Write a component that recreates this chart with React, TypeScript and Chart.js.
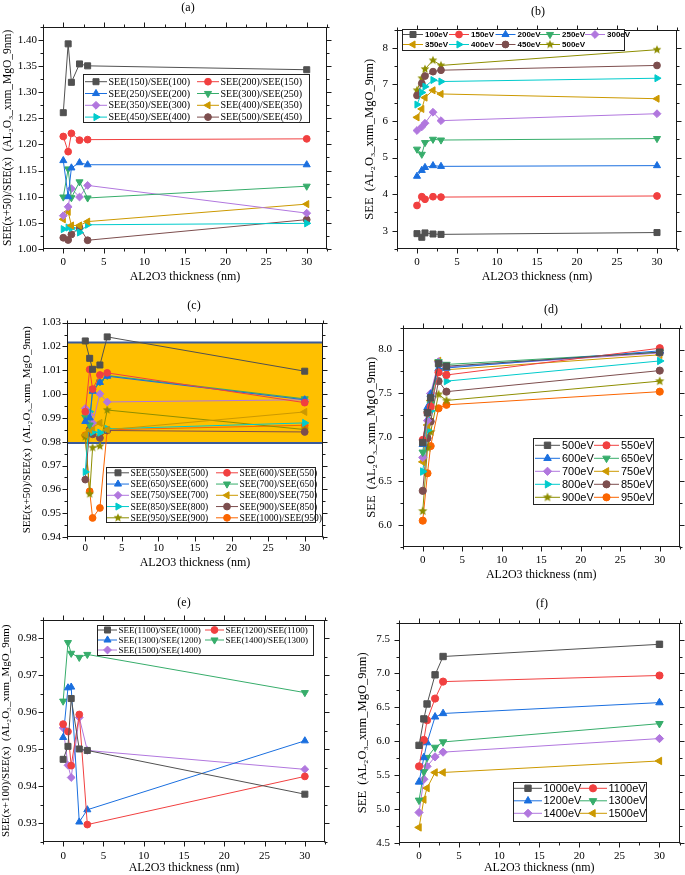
import React, { useEffect, useRef } from 'react';
import { Chart, registerables } from 'chart.js';
import { drawPoint } from 'chart.js/helpers';

Chart.register(...registerables);

// ---------------- data ----------------
const thickness = [0, 0.6, 1, 2, 3, 30];
const xTicks = [0, 5, 10, 15, 20, 25, 30];

// (a) SEE(x+50)/SEE(x), 100-500 eV
const aLabels = ['SEE(150)/SEE(100)', 'SEE(200)/SEE(150)', 'SEE(250)/SEE(200)', 'SEE(300)/SEE(250)', 'SEE(350)/SEE(300)', 'SEE(400)/SEE(350)', 'SEE(450)/SEE(400)', 'SEE(500)/SEE(450)'];
const a150_100 = [1.2605, 1.392, 1.3185, 1.3537, 1.350, 1.3426];
const a200_150 = [1.215, 1.186, 1.221, 1.208, 1.209, 1.2105];
const a250_200 = [1.169, 1.100, 1.155, 1.165, 1.161, 1.161];
const a300_250 = [1.0993, 1.153, 1.098, 1.1283, 1.0975, 1.120];
const a350_300 = [1.0636, 1.0807, 1.1154, 1.0993, 1.1215, 1.0685];
const a400_350 = [1.0567, 1.071, 1.045, 1.045, 1.0524, 1.0858];
const a450_400 = [1.038, 1.041, 1.040, 1.0315, 1.0463, 1.049];
const a500_450 = [1.0215, 1.0172, 1.0278, 1.0407, 1.0167, 1.0561];
const aYTicks = [1.0, 1.05, 1.1, 1.15, 1.2, 1.25, 1.3, 1.35, 1.4];

// (b) SEE 100-500 eV
const bLabels = ['100eV', '150eV', '200eV', '250eV', '300eV', '350eV', '400eV', '450eV', '500eV'];
const b100 = [2.92, 2.82, 2.94, 2.91, 2.90, 2.95];
const b150 = [3.69, 3.93, 3.86, 3.93, 3.92, 3.95];
const b200 = [4.49, 4.65, 4.73, 4.78, 4.76, 4.78];
const b250 = [5.23, 5.09, 5.41, 5.50, 5.48, 5.52];
const b300 = [5.74, 5.84, 5.94, 6.24, 6.01, 6.20];
const b350 = [6.10, 6.33, 6.64, 6.84, 6.74, 6.61];
const b400 = [6.45, 6.78, 6.94, 7.12, 7.08, 7.17];
const b450 = [6.70, 7.03, 7.23, 7.35, 7.39, 7.52];
const b500 = [6.84, 7.17, 7.42, 7.66, 7.52, 7.95];
const bYTicks = [3, 4, 5, 6, 7, 8];

// (c) SEE(x+50)/SEE(x), 500-1000 eV
const cLabels = ['SEE(550)/SEE(500)', 'SEE(600)/SEE(550)', 'SEE(650)/SEE(600)', 'SEE(700)/SEE(650)', 'SEE(750)/SEE(700)', 'SEE(800)/SEE(750)', 'SEE(850)/SEE(800)', 'SEE(900)/SEE(850)', 'SEE(950)/SEE(900)', 'SEE(1000)/SEE(950)'];
const c550 = [1.0223, 1.0150, 1.0104, 1.0122, 1.0240, 1.0096];
const c600 = [0.9926, 1.0103, 1.0021, 1.0080, 1.0089, 0.9964];
const c650 = [0.9885, 0.9900, 1.0012, 1.0049, 1.0075, 0.9976];
const c700 = [0.9903, 0.9870, 1.0021, 1.0051, 1.0078, 0.9980];
const c750 = [0.9940, 0.9913, 0.9879, 1.0001, 0.9967, 0.9976];
const c800 = [0.9830, 0.9850, 0.9860, 0.9879, 0.9850, 0.9925];
const c850 = [0.9673, 0.9926, 0.9840, 0.9838, 0.9854, 0.9879];
const c900 = [0.9641, 0.9851, 0.9831, 0.9816, 0.9847, 0.9841];
const c950 = [0.9820, 0.9580, 0.9775, 0.9781, 0.9933, 0.9851];
const c1000 = [0.9827, 0.9592, 0.9480, 0.9522, 0.9850, 0.9869];
const cYTicks = [0.94, 0.95, 0.96, 0.97, 0.98, 0.99, 1.0, 1.01, 1.02, 1.03];
const cBand = [0.9795, 1.0216];

// (d) SEE 500-950 eV
const dLabels = ['500eV', '550eV', '600eV', '650eV', '700eV', '750eV', '800eV', '850eV', '900eV', '950eV'];
const d500 = [6.94, 7.28, 7.45, 7.84, 7.81, 7.97];
const d550 = [6.97, 7.28, 7.35, 7.74, 7.71, 8.015];
const d600 = [6.92, 7.34, 7.49, 7.78, 7.79, 7.985];
const d650 = [6.83, 7.27, 7.38, 7.86, 7.83, 7.97];
const d700 = [6.77, 7.19, 7.50, 7.86, 7.80, 7.96];
const d750 = [6.72, 7.14, 7.42, 7.87, 7.77, 7.94];
const d800 = [6.61, 7.08, 7.30, 7.77, 7.64, 7.87];
const d850 = [6.39, 6.99, 7.18, 7.64, 7.52, 7.76];
const d900 = [6.16, 6.88, 7.06, 7.49, 7.42, 7.64];
const d950 = [6.05, 6.59, 6.90, 7.33, 7.37, 7.52];
const dYTicks = [6.0, 6.5, 7.0, 7.5, 8.0];

// (e) SEE(x+100)/SEE(x), 1000-1500 eV
const eLabels = ['SEE(1100)/SEE(1000)', 'SEE(1200)/SEE(1100)', 'SEE(1300)/SEE(1200)', 'SEE(1400)/SEE(1300)', 'SEE(1500)/SEE(1400)'];
const e1100 = [0.9473, 0.9508, 0.9637, 0.9501, 0.9497, 0.9379];
const e1200 = [0.9568, 0.9548, 0.9456, 0.9594, 0.9297, 0.9427];
const e1300 = [0.9532, 0.9666, 0.9668, 0.9304, 0.9337, 0.9523];
const e1400 = [0.9630, 0.9788, 0.9759, 0.9748, 0.9756, 0.9653];
const e1500 = [0.9558, 0.9457, 0.9424, 0.9586, 0.9497, 0.9446];
const eYTicks = [0.93, 0.94, 0.95, 0.96, 0.97, 0.98];

// (f) SEE 1000-1500 eV
const fLabels = ['1000eV', '1100eV', '1200eV', '1300eV', '1400eV', '1500eV'];
const f1000 = [5.94, 6.33, 6.55, 6.98, 7.25, 7.43];
const f1100 = [5.63, 6.02, 6.31, 6.63, 6.88, 6.97];
const f1200 = [5.40, 5.76, 5.98, 6.36, 6.41, 6.57];
const f1300 = [5.13, 5.55, 5.76, 5.91, 5.99, 6.26];
const f1400 = [4.95, 5.44, 5.63, 5.77, 5.84, 6.04];
const f1500 = [4.73, 5.14, 5.31, 5.54, 5.54, 5.71];
const fYTicks = [4.5, 5.0, 5.5, 6.0, 6.5, 7.0, 7.5];

// ---------------- styles ----------------
const PALETTE = ['#515151', '#F14040', '#1A6FDF', '#37AD6B', '#B177DE', '#CC9900', '#00CBCC', '#7D4E4E', '#8E8E00', '#FB6501'];
const MARKERS = ['square', 'circle', 'up', 'down', 'diamond', 'left', 'right', 'circle', 'star', 'circle'];
const SERIF = '"Liberation Serif", serif';
const SANS = '"Liberation Sans", Arial, sans-serif';
const Y_SEE = 'SEE  (AL\u2082O\u2083_xnm_MgO_9nm)';

function makeStar(color: string, r: number): HTMLCanvasElement {
  const size = Math.ceil(r * 2 + 2);
  const c = document.createElement('canvas');
  c.width = size; c.height = size;
  const ctx = c.getContext('2d')!;
  const cx = size / 2, cy = size / 2;
  ctx.beginPath();
  for (let i = 0; i < 10; i++) {
    const ang = -Math.PI / 2 + (i * Math.PI) / 5;
    const rr = i % 2 === 0 ? r : r * 0.45;
    ctx.lineTo(cx + rr * Math.cos(ang), cy + rr * Math.sin(ang));
  }
  ctx.closePath();
  ctx.fillStyle = color;
  ctx.fill();
  return c;
}

function markerProps(m: string, color: string, r: number): any {
  switch (m) {
    case 'square': return { pointStyle: 'rect', rotation: 0, radius: r * 1.25 };
    case 'circle': return { pointStyle: 'circle', rotation: 0, radius: r };
    case 'up': return { pointStyle: 'triangle', rotation: 0, radius: r * 1.2 };
    case 'down': return { pointStyle: 'triangle', rotation: 180, radius: r * 1.2 };
    case 'diamond': return { pointStyle: 'rectRot', rotation: 0, radius: r * 1.15 };
    case 'left': return { pointStyle: 'triangle', rotation: -90, radius: r * 1.2 };
    case 'right': return { pointStyle: 'triangle', rotation: 90, radius: r * 1.2 };
    case 'star': return { pointStyle: makeStar(color, r * 1.35), rotation: 0, radius: r };
    default: return { pointStyle: 'circle', rotation: 0, radius: r };
  }
}

type LegendSpec = {
  box: [number, number, number, number];
  cols: number;
  rowY0: number;
  rowH: number;
  colX: number[];
  lineLen: number;
  gap: number;
  font: string;
};

type PanelSpec = {
  title: string;
  titlePos: [number, number];
  canvas: [number, number, number, number];
  area: [number, number, number, number];
  yMin: number;
  yMax: number;
  yTicks: number[];
  yDecimals: number;
  yLabel: string;
  yTitleSize: number;
  yTitleCenter: number;
  yTickPad: number;
  xTickPad: number;
  xTitleCenter: number;
  labels: string[];
  series: number[][];
  markerR: number;
  legend: LegendSpec;
  band?: number[];
};

const panels: PanelSpec[] = [
  {
    title: '(a)', titlePos: [188, 7],
    canvas: [0, 14, 342, 292], area: [43, 20, 327, 249],
    yMin: 1.0, yMax: 1.425, yTicks: aYTicks, yDecimals: 2,
    yLabel: 'SEE(x+50)/SEE(x)  (AL\u2082O\u2083_xnm_MgO_9nm)', yTitleSize: 11.5,
    yTitleCenter: 8, yTickPad: 6, xTickPad: 7, xTitleCenter: 277,
    labels: aLabels, series: [a150_100, a200_150, a250_200, a300_250, a350_300, a400_350, a450_400, a500_450],
    markerR: 3.4,
    legend: { box: [83, 74, 309, 122], cols: 2, rowY0: 81.7, rowH: 11.8, colX: [85, 197], lineLen: 22, gap: 1.5, font: `10px ${SERIF}` },
  },
  {
    title: '(b)', titlePos: [538, 11],
    canvas: [342, 14, 685, 292], area: [397, 23, 677, 249],
    yMin: 2.5, yMax: 8.5, yTicks: bYTicks, yDecimals: 0,
    yLabel: Y_SEE, yTitleSize: 12.5,
    yTitleCenter: 370, yTickPad: 9, xTickPad: 7, xTitleCenter: 277,
    labels: bLabels, series: [b100, b150, b200, b250, b300, b350, b400, b450, b500],
    markerR: 3.4,
    legend: { box: [402, 29, 624, 50], cols: 5, rowY0: 34.5, rowH: 10, colX: [403, 449, 495.5, 540, 585], lineLen: 20, gap: 2, font: `bold 8px ${SANS}` },
  },
  {
    title: '(c)', titlePos: [194, 305],
    canvas: [0, 310, 342, 588], area: [67, 317, 323, 537],
    yMin: 0.94, yMax: 1.03, yTicks: cYTicks, yDecimals: 2,
    yLabel: 'SEE(x+50)/SEE(x)  (AL\u2082O\u2083_xnm_MgO_9nm)', yTitleSize: 11,
    yTitleCenter: 27, yTickPad: 6, xTickPad: 5, xTitleCenter: 563,
    labels: cLabels, series: [c550, c600, c650, c700, c750, c800, c850, c900, c950, c1000],
    markerR: 3.4,
    legend: { box: [106, 467, 315, 522], cols: 2, rowY0: 472.8, rowH: 11.25, colX: [107, 216], lineLen: 22, gap: 1.5, font: `9.5px ${SERIF}` },
    band: cBand,
  },
  {
    title: '(d)', titlePos: [551, 309],
    canvas: [342, 310, 685, 588], area: [403, 322, 681, 547],
    yMin: 5.75, yMax: 8.25, yTicks: dYTicks, yDecimals: 1,
    yLabel: Y_SEE, yTitleSize: 12.5,
    yTitleCenter: 372, yTickPad: 11, xTickPad: 7, xTitleCenter: 575,
    labels: dLabels, series: [d500, d550, d600, d650, d700, d750, d800, d850, d900, d950],
    markerR: 3.6,
    legend: { box: [533, 438, 653, 504], cols: 2, rowY0: 445.3, rowH: 13, colX: [535, 594], lineLen: 25, gap: 2, font: `11px ${SANS}` },
  },
  {
    title: '(e)', titlePos: [184, 602],
    canvas: [0, 607, 342, 875], area: [43, 613, 325, 842],
    yMin: 0.925, yMax: 0.985, yTicks: eYTicks, yDecimals: 2,
    yLabel: 'SEE(x+100)/SEE(x)  (AL\u2082O\u2083_xnm_MgO_9nm)', yTitleSize: 11,
    yTitleCenter: 6, yTickPad: 6, xTickPad: 8, xTitleCenter: 869,
    labels: eLabels, series: [e1100, e1200, e1300, e1400, e1500],
    markerR: 3.4,
    legend: { box: [97, 625, 313, 655], cols: 2, rowY0: 630, rowH: 10, colX: [98, 205], lineLen: 19, gap: 1.5, font: `9px ${SERIF}` },
  },
  {
    title: '(f)', titlePos: [542, 603],
    canvas: [342, 607, 685, 875], area: [399, 615, 681, 843],
    yMin: 4.5, yMax: 7.75, yTicks: fYTicks, yDecimals: 1,
    yLabel: Y_SEE, yTitleSize: 12.5,
    yTitleCenter: 363, yTickPad: 9, xTickPad: 7, xTitleCenter: 869,
    labels: fLabels, series: [f1000, f1100, f1200, f1300, f1400, f1500],
    markerR: 3.6,
    legend: { box: [513, 782, 646, 821], cols: 2, rowY0: 788.3, rowH: 12.5, colX: [514, 579], lineLen: 28, gap: 1.5, font: `11px ${SANS}` },
  },
];

// ---------------- plugins ----------------
function minorValues(majors: number[], min: number, max: number): number[] {
  const step = majors[1] - majors[0];
  const out: number[] = [];
  const eps = step * 1e-6;
  for (let v = majors[0] - step / 2; v >= min - eps; v -= step) out.push(v);
  for (let i = 0; i < majors.length; i++) {
    const v = majors[i] + step / 2;
    if (v <= max + eps) out.push(v);
  }
  return out;
}

const bandPlugin = {
  id: 'band',
  beforeDatasetsDraw(chart: any, _args: any, opts: any) {
    if (!opts || !opts.range) return;
    const { ctx, chartArea: ca, scales } = chart;
    const y = scales.y;
    const top = y.getPixelForValue(opts.range[1]);
    const bot = y.getPixelForValue(opts.range[0]);
    ctx.save();
    ctx.fillStyle = '#FFC000';
    ctx.fillRect(ca.left, top, ca.right - ca.left, bot - top);
    ctx.strokeStyle = '#3A5A9A';
    ctx.lineWidth = 2;
    ctx.beginPath();
    ctx.moveTo(ca.left, top); ctx.lineTo(ca.right, top);
    ctx.moveTo(ca.left, bot); ctx.lineTo(ca.right, bot);
    ctx.stroke();
    ctx.restore();
  },
};

const framePlugin = {
  id: 'frame',
  afterDraw(chart: any, _args: any, opts: any) {
    const { ctx, chartArea: ca, scales } = chart;
    const xs = scales.x, ys = scales.y;
    ctx.save();
    ctx.strokeStyle = '#1a1a1a';
    ctx.lineWidth = 1;
    const L = Math.round(ca.left) + 0.5, R = Math.round(ca.right) - 0.5;
    const T = Math.round(ca.top) + 0.5, B = Math.round(ca.bottom) - 0.5;
    ctx.strokeRect(L, T, R - L, B - T);
    ctx.beginPath();
    const xt = (v: number, len: number) => {
      const p = Math.round(xs.getPixelForValue(v)) + 0.5;
      ctx.moveTo(p, B); ctx.lineTo(p, B + len);
      ctx.moveTo(p, T); ctx.lineTo(p, T - len);
    };
    const yt = (v: number, len: number) => {
      const p = Math.round(ys.getPixelForValue(v)) + 0.5;
      ctx.moveTo(L, p); ctx.lineTo(L - len, p);
      ctx.moveTo(R, p); ctx.lineTo(R + len, p);
    };
    opts.xMajor.forEach((v: number) => xt(v, 5));
    minorValues(opts.xMajor, xs.min, xs.max).forEach((v: number) => xt(v, 3));
    opts.yMajor.forEach((v: number) => yt(v, 5));
    minorValues(opts.yMajor, ys.min, ys.max).forEach((v: number) => yt(v, 3));
    ctx.stroke();
    ctx.restore();
  },
};

const legendPlugin = {
  id: 'boxLegend',
  afterDraw(chart: any, _args: any, opts: any) {
    if (!opts || !opts.spec) return;
    const spec: LegendSpec = opts.spec;
    const [ox, oy] = opts.offset;
    const { ctx } = chart;
    ctx.save();
    const [x0, y0, x1, y1] = spec.box;
    ctx.fillStyle = '#ffffff';
    ctx.fillRect(x0 - ox, y0 - oy, x1 - x0, y1 - y0);
    ctx.strokeStyle = '#222';
    ctx.lineWidth = 1;
    ctx.strokeRect(Math.round(x0 - ox) + 0.5, Math.round(y0 - oy) + 0.5, Math.round(x1 - x0), Math.round(y1 - y0));
    ctx.font = spec.font;
    ctx.textBaseline = 'middle';
    ctx.textAlign = 'left';
    chart.data.datasets.forEach((ds: any, i: number) => {
      const col = i % spec.cols;
      const row = Math.floor(i / spec.cols);
      const lx = spec.colX[col] - ox;
      const ly = spec.rowY0 + row * spec.rowH - oy;
      ctx.strokeStyle = ds.borderColor;
      ctx.lineWidth = 1;
      ctx.beginPath();
      ctx.moveTo(lx, ly); ctx.lineTo(lx + spec.lineLen, ly);
      ctx.stroke();
      ctx.fillStyle = ds.borderColor;
      ctx.strokeStyle = ds.borderColor;
      drawPoint(ctx, { pointStyle: ds.pointStyle, rotation: ds.pointRotation, radius: ds.pointRadius, borderWidth: 1 } as any, lx + spec.lineLen / 2, ly);
      ctx.fillStyle = '#000';
      ctx.fillText(ds.label, lx + spec.lineLen + spec.gap, ly + 0.5);
    });
    ctx.restore();
  },
};

// ---------------- components ----------------
function Panel({ spec }: { spec: PanelSpec }) {
  const ref = useRef<HTMLCanvasElement>(null);
  const [cl, ct, cr, cb] = spec.canvas;
  const w = cr - cl, h = cb - ct;

  useEffect(() => {
    const [L, T, R, B] = spec.area;
    const xTitleSize = 12;
    const yTitlePad = Math.max(0, spec.yTitleCenter - cl - spec.yTitleSize * 0.6);
    const xTitlePad = Math.max(0, cb - spec.xTitleCenter - xTitleSize * 0.6);
    const datasets = spec.series.map((vals, i) => {
      const color = PALETTE[i];
      const mk = markerProps(MARKERS[i], color, spec.markerR);
      return {
        label: spec.labels[i],
        data: thickness.map((x, j) => ({ x, y: vals[j] })),
        borderColor: color,
        backgroundColor: color,
        borderWidth: 1,
        pointStyle: mk.pointStyle,
        pointRotation: mk.rotation,
        pointRadius: mk.radius,
        pointBackgroundColor: color,
        pointBorderColor: color,
        pointBorderWidth: 1,
        tension: 0,
        fill: false,
      };
    });
    const chart = new Chart(ref.current as HTMLCanvasElement, {
      type: 'line',
      data: { datasets },
      plugins: [bandPlugin, framePlugin, legendPlugin],
      options: {
        animation: false,
        responsive: false,
        maintainAspectRatio: false,
        events: [],
        layout: { padding: { left: 0, top: T - ct, right: cr - R, bottom: 0 } },
        plugins: {
          legend: { display: false },
          tooltip: { enabled: false },
          title: { display: false },
          band: { range: spec.band },
          frame: { xMajor: xTicks, yMajor: spec.yTicks },
          boxLegend: { spec: spec.legend, offset: [cl, ct] },
        } as any,
        scales: {
          x: {
            type: 'linear',
            min: -2.5,
            max: 32.5,
            afterBuildTicks: (s: any) => { s.ticks = xTicks.map((v) => ({ value: v })); },
            afterFit: (s: any) => { s.height = cb - B; },
            grid: { display: false, drawTicks: false, tickLength: 0 },
            border: { display: false },
            ticks: {
              color: '#000',
              font: { family: SERIF, size: 11 },
              padding: spec.xTickPad,
              maxRotation: 0,
              autoSkip: false,
              callback: (v: any) => String(v),
            },
            title: {
              display: true,
              text: 'AL2O3 thickness (nm)',
              color: '#000',
              font: { family: SERIF, size: xTitleSize },
              padding: { top: 0, bottom: xTitlePad },
            },
          },
          y: {
            type: 'linear',
            min: spec.yMin,
            max: spec.yMax,
            afterBuildTicks: (s: any) => { s.ticks = spec.yTicks.map((v) => ({ value: v })); },
            afterFit: (s: any) => { s.width = L - cl; },
            grid: { display: false, drawTicks: false, tickLength: 0 },
            border: { display: false },
            ticks: {
              color: '#000',
              font: { family: SERIF, size: 11 },
              padding: spec.yTickPad,
              autoSkip: false,
              callback: (v: any) => Number(v).toFixed(spec.yDecimals),
            },
            title: {
              display: true,
              text: spec.yLabel,
              color: '#000',
              font: { family: SERIF, size: spec.yTitleSize },
              padding: { top: yTitlePad, bottom: 0 },
            },
          },
        },
      } as any,
    });
    return () => chart.destroy();
  }, []);

  return (
    <>
      <canvas
        ref={ref}
        width={w}
        height={h}
        style={{ position: 'absolute', left: cl, top: ct, width: w, height: h }}
      />
      <div
        style={{
          position: 'absolute',
          left: spec.titlePos[0],
          top: spec.titlePos[1],
          transform: 'translate(-50%, -50%)',
          font: `12px ${SERIF}`,
          color: '#000',
          whiteSpace: 'nowrap',
        }}
      >
        {spec.title}
      </div>
    </>
  );
}

export default function App() {
  return (
    <div
      style={{
        position: 'absolute',
        left: 0,
        top: 0,
        width: 685,
        height: 875,
        background: '#ffffff',
        overflow: 'hidden',
      }}
    >
      {panels.map((p) => (
        <Panel key={p.title} spec={p} />
      ))}
    </div>
  );
}
